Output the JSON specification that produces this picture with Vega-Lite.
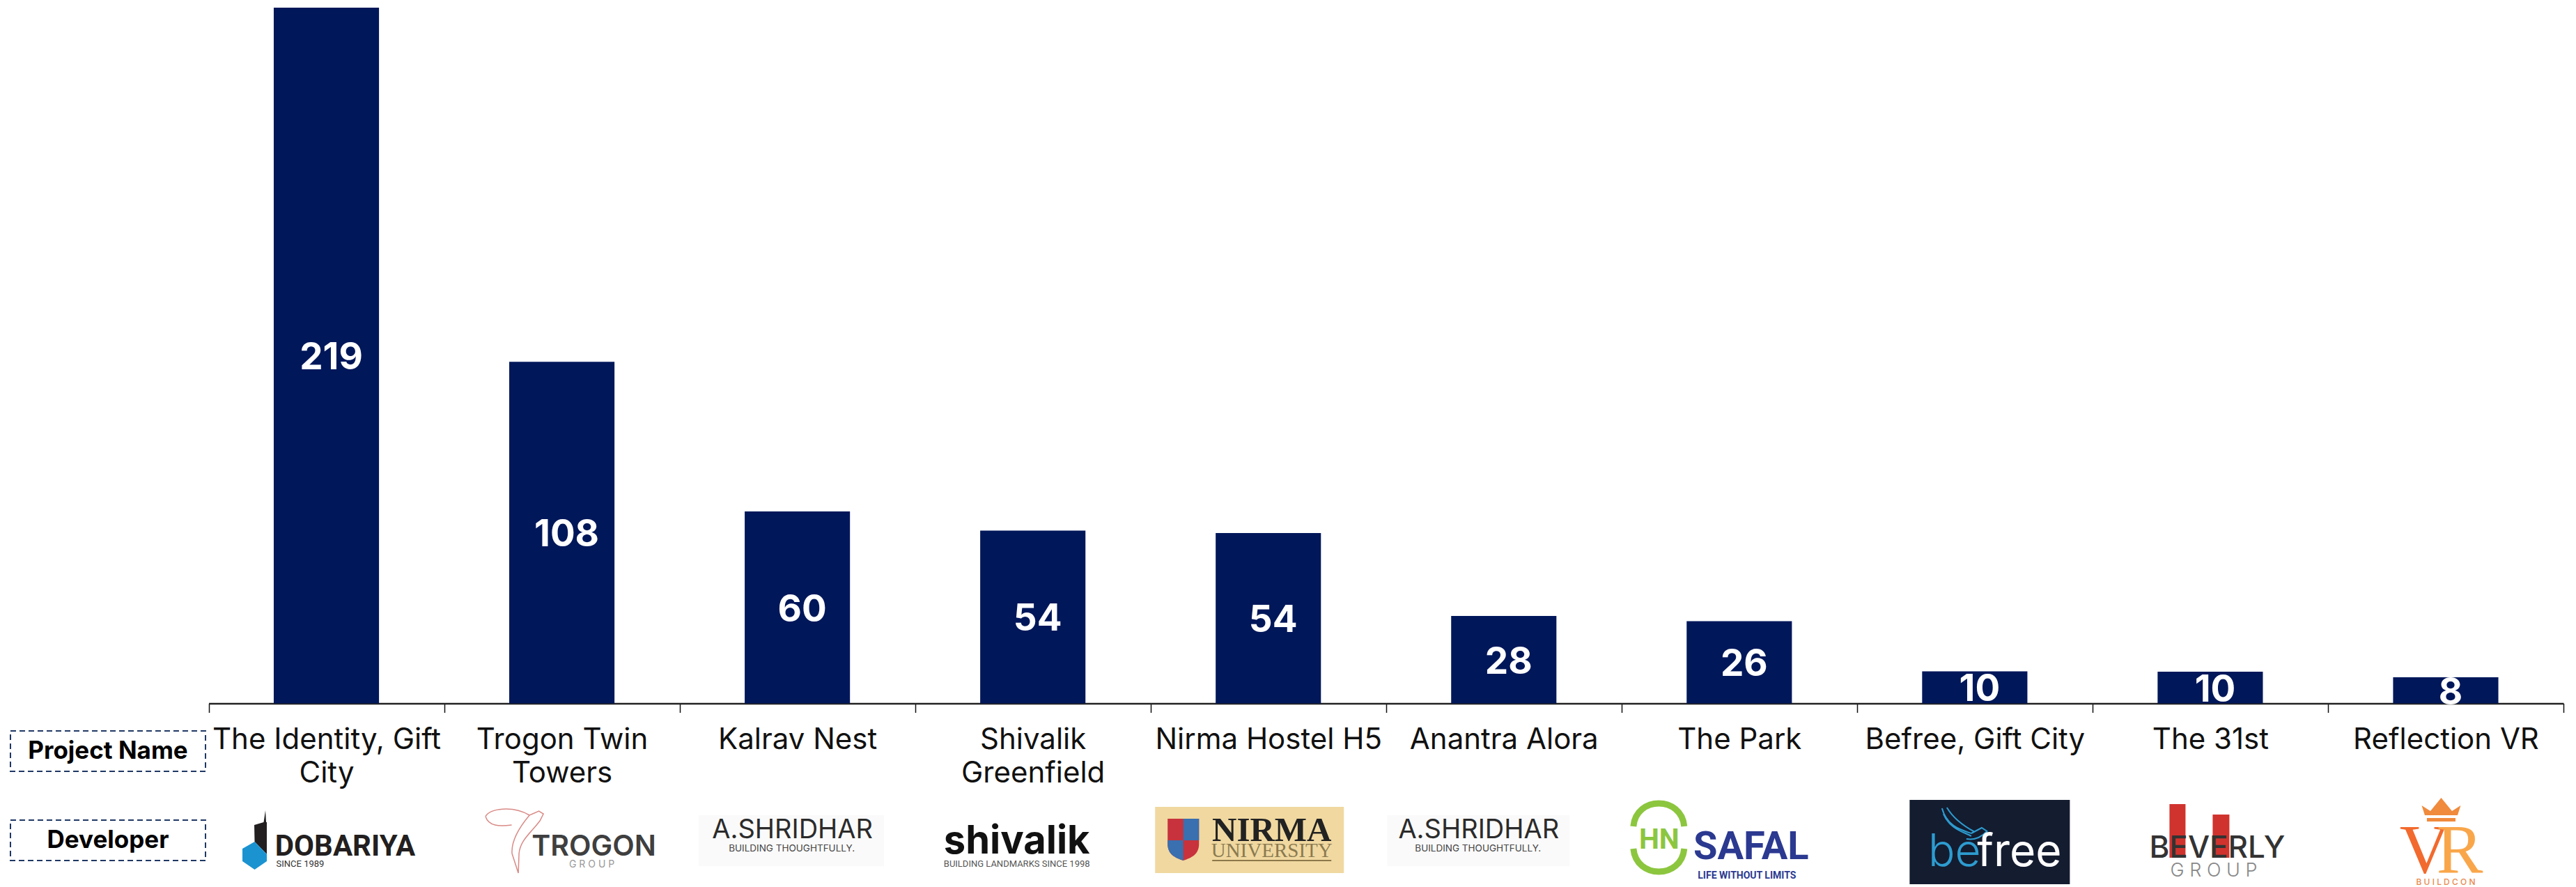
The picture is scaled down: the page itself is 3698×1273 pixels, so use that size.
{"$schema":"https://vega.github.io/schema/vega-lite/v6.json","width":3698,"height":1273,"padding":0,"autosize":{"type":"none"},"background":"white","config":{"view":{"stroke":null},"font":"Inter"},"datasets":{"bars":[{"project":"The Identity, Gift City","value":219},{"project":"Trogon Twin Towers","value":107.5},{"project":"Kalrav Nest","value":60.4},{"project":"Shivalik Greenfield","value":54.4},{"project":"Nirma Hostel H5","value":53.6},{"project":"Anantra Alora","value":27.5},{"project":"The Park","value":25.9},{"project":"Befree, Gift City","value":10.1},{"project":"The 31st","value":10},{"project":"Reflection VR","value":8.2}]},"resolve":{"scale":{"x":"independent","y":"independent"}},"layer":[
{"data":{"name":"bars"},
"encoding":{"x":{"field":"project","type":"nominal","sort":null,"title":null,"scale":{"type":"band","paddingInner":0,"paddingOuter":0,"domain":["The Identity, Gift City","Trogon Twin Towers","Kalrav Nest","Shivalik Greenfield","Nirma Hostel H5","Anantra Alora","The Park","Befree, Gift City","The 31st","Reflection VR"],"range":[299.5,3680]},"axis":{"orient":"bottom","offset":-263.5,"labelAngle":0,"labelAlign":"center","labelBaseline":"top","labelFont":"Inter","labelFontSize":42,"labelColor":"#111111","labelPadding":19,"labelLimit":600,"labelLineHeight":48,"labelOverlap":false,"tickBand":"extent","tickSize":13,"tickWidth":1.5,"tickColor":"#111111","domainColor":"#222222","domainWidth":2.5,"grid":false,"labelExpr":"datum.value=='The Identity, Gift City'?['The Identity, Gift','City']:datum.value=='Trogon Twin Towers'?['Trogon Twin','Towers']:datum.value=='Shivalik Greenfield'?['Shivalik','Greenfield']:datum.value"}},"y":{"field":"value","type":"quantitative","title":null,"axis":null,"scale":{"domain":[0,219],"nice":false,"zero":true,"range":[1009.5,11]}}},
"mark":{"type":"bar","color":"#00175A","width":{"band":0.447}}},
{"data":{"name":"bars"},
"encoding":{"x":{"field":"project","type":"nominal","sort":null,"axis":null,"scale":{"type":"band","paddingInner":0,"paddingOuter":0,"domain":["The Identity, Gift City","Trogon Twin Towers","Kalrav Nest","Shivalik Greenfield","Nirma Hostel H5","Anantra Alora","The Park","Befree, Gift City","The 31st","Reflection VR"],"range":[299.5,3680]}},"y":{"field":"value","type":"quantitative","axis":null,"scale":{"domain":[0,438],"nice":false,"zero":true,"range":[1009.5,11]}},"text":{"field":"value","type":"quantitative","format":".0f"}},
"mark":{"type":"text","color":"white","font":"Inter","fontWeight":"bold","fontSize":53,"dx":7,"dy":4,"baseline":"middle","align":"center"}},
{"encoding":{"x":{"field":"project","type":"nominal","sort":null,"axis":null,"scale":{"type":"band","paddingInner":0,"paddingOuter":0,"domain":["The Identity, Gift City","Trogon Twin Towers","Kalrav Nest","Shivalik Greenfield","Nirma Hostel H5","Anantra Alora","The Park","Befree, Gift City","The 31st","Reflection VR"],"range":[299.5,3680]}},"y":{"datum":"Developer","type":"nominal","axis":null,"scale":{"type":"band","paddingInner":0,"paddingOuter":0,"domain":["Project Name","Developer"],"range":[1014,1270]}}},
"layer":[
{"data":{"values":[{"project":"The Identity, Gift City"}]},"mark":{"type":"point","shape":"M-0.875,-0.43L-0.865,-0.26L-0.855,-0.26L-0.855,0.2L-1.03,0.02L-1.035,-0.22L-0.9,-0.26Z","size":40000,"filled":true,"color":"#231f20","opacity":1,"strokeWidth":0}},
{"data":{"values":[{"project":"The Identity, Gift City"}]},"mark":{"type":"point","shape":"M-1.03,0.02L-0.855,0.2L-0.855,0.3L-1.03,0.42L-1.205,0.3L-1.205,0.12Z","size":40000,"filled":true,"color":"#1b93d1","opacity":1,"strokeWidth":0}},
{"data":{"values":[{"project":"The Identity, Gift City","logo":"DOBARIYA"}]},"mark":{"type":"text","font":"Roboto","fontWeight":"bold","fontSize":42,"color":"#231f20","dx":27,"dy":22,"baseline":"alphabetic"},"encoding":{"text":{"field":"logo"}}},
{"data":{"values":[{"project":"The Identity, Gift City","logo":"SINCE 1989"}]},"mark":{"type":"text","font":"Roboto","fontSize":13,"color":"#333333","dx":-72,"dy":38,"align":"left","baseline":"alphabetic"},"encoding":{"text":{"field":"logo"}}},
{"data":{"values":[{"project":"Trogon Twin Towers"}]},"mark":{"type":"point","shape":"M-1.095,-0.34C-1.05,-0.46 -0.7,-0.5 -0.465,-0.36L-0.33,-0.42L-0.265,-0.38L-0.315,-0.28C-0.45,-0.1 -0.6,0 -0.615,0.19L-0.625,0.47L-0.715,0.19C-0.73,0 -0.6,-0.2 -0.465,-0.36M-1.095,-0.34C-1.05,-0.2 -0.9,-0.2 -0.72,-0.22","size":40000,"filled":false,"stroke":"#d98a86","strokeWidth":1.5,"opacity":1}},
{"data":{"values":[{"project":"Trogon Twin Towers","logo":"TROGON"}]},"mark":{"type":"text","font":"Inter","fontWeight":600,"fontSize":41,"color":"#3f3f3f","dx":46,"dy":22,"baseline":"alphabetic"},"encoding":{"text":{"field":"logo"}}},
{"data":{"values":[{"project":"Trogon Twin Towers","logo":"G  R  O  U  P"}]},"mark":{"type":"text","font":"Inter","fontSize":14,"color":"#999999","dx":43,"dy":39,"baseline":"alphabetic"},"encoding":{"text":{"field":"logo"}}},
{"data":{"values":[{"project":"Kalrav Nest"}]},"mark":{"type":"point","shape":"M-1.415,-0.36H1.245V0.37H-1.415Z","size":40000,"filled":true,"color":"#fafafa","opacity":1,"strokeWidth":0}},
{"data":{"values":[{"project":"Kalrav Nest","logo":"A.SHRIDHAR"}]},"mark":{"type":"text","font":"Inter","fontSize":38,"fontWeight":400,"color":"#2b2b2b","dx":-7,"dy":-3,"baseline":"alphabetic"},"encoding":{"text":{"field":"logo"}}},
{"data":{"values":[{"project":"Kalrav Nest","logo":"BUILDING THOUGHTFULLY."}]},"mark":{"type":"text","font":"Inter","fontSize":13.5,"color":"#444444","dx":-8,"dy":16,"baseline":"alphabetic"},"encoding":{"text":{"field":"logo"}}},
{"data":{"values":[{"project":"Shivalik Greenfield","logo":"shivalik"}]},"mark":{"type":"text","font":"Inter","fontWeight":"bold","fontSize":56,"color":"#111111","dx":-23,"dy":19,"baseline":"alphabetic"},"encoding":{"text":{"field":"logo"}}},
{"data":{"values":[{"project":"Shivalik Greenfield","logo":"BUILDING LANDMARKS SINCE 1998"}]},"mark":{"type":"text","font":"Roboto","fontSize":13,"color":"#555555","dx":-23,"dy":38,"baseline":"alphabetic"},"encoding":{"text":{"field":"logo"}}},
{"data":{"values":[{"project":"Nirma Hostel H5"}]},"mark":{"type":"point","shape":"M-1.625,-0.48H1.085V0.47H-1.625Z","size":40000,"filled":true,"color":"#F0D8A0","opacity":1,"strokeWidth":0}},
{"data":{"values":[{"project":"Nirma Hostel H5"}]},"mark":{"type":"point","shape":"M-1.445,-0.31H-0.995V0.05C-0.995,0.2 -1.1,0.25 -1.22,0.29C-1.34,0.25 -1.445,0.2 -1.445,0.05Z","size":40000,"filled":true,"color":"#c8323c","opacity":1,"strokeWidth":0}},
{"data":{"values":[{"project":"Nirma Hostel H5"}]},"mark":{"type":"point","shape":"M-1.22,-0.31H-0.995V0H-1.22ZM-1.445,0H-1.22V0.29C-1.34,0.25 -1.445,0.2 -1.445,0.05Z","size":40000,"filled":true,"color":"#3a6fb0","opacity":1,"strokeWidth":0}},
{"data":{"values":[{"project":"Nirma Hostel H5","logo":"NIRMA"}]},"mark":{"type":"text","font":"Liberation Serif","fontWeight":"bold","fontSize":49,"color":"#222222","dx":5,"dy":1,"baseline":"alphabetic"},"encoding":{"text":{"field":"logo"}}},
{"data":{"values":[{"project":"Nirma Hostel H5","logo":"UNIVERSITY"}]},"mark":{"type":"text","font":"Liberation Serif","fontSize":29,"color":"#8a7a50","dx":5,"dy":24,"baseline":"alphabetic"},"encoding":{"text":{"field":"logo"}}},
{"data":{"values":[{"project":"Nirma Hostel H5"}]},"mark":{"type":"point","shape":"M-0.805,0.28H0.905V0.3H-0.805Z","size":40000,"filled":true,"color":"#8c7849","opacity":1,"strokeWidth":0}},
{"data":{"values":[{"project":"Anantra Alora"}]},"mark":{"type":"point","shape":"M-1.675,-0.36H0.945V0.37H-1.675Z","size":40000,"filled":true,"color":"#fafafa","opacity":1,"strokeWidth":0}},
{"data":{"values":[{"project":"Anantra Alora","logo":"A.SHRIDHAR"}]},"mark":{"type":"text","font":"Inter","fontSize":38,"fontWeight":400,"color":"#2b2b2b","dx":-36,"dy":-3,"baseline":"alphabetic"},"encoding":{"text":{"field":"logo"}}},
{"data":{"values":[{"project":"Anantra Alora","logo":"BUILDING THOUGHTFULLY."}]},"mark":{"type":"text","font":"Inter","fontSize":13.5,"color":"#444444","dx":-37,"dy":16,"baseline":"alphabetic"},"encoding":{"text":{"field":"logo"}}},
{"data":{"values":[{"project":"The Park"}]},"mark":{"type":"point","shape":"M-1.52,-0.2C-1.48,-0.64 -0.83,-0.64 -0.79,-0.2M-1.52,0.12C-1.48,0.56 -0.83,0.56 -0.79,0.12","size":40000,"filled":false,"stroke":"#8cc63f","strokeWidth":9,"opacity":1}},
{"data":{"values":[{"project":"The Park","logo":"HN"}]},"mark":{"type":"text","font":"Roboto","fontWeight":"bold","fontSize":41,"color":"#8cc63f","dx":-115,"dy":12,"baseline":"alphabetic"},"encoding":{"text":{"field":"logo"}}},
{"data":{"values":[{"project":"The Park","logo":"SAFAL"}]},"mark":{"type":"text","font":"Roboto","fontWeight":"bold","fontSize":56,"color":"#2b3990","dx":17,"dy":27,"baseline":"alphabetic"},"encoding":{"text":{"field":"logo"}}},
{"data":{"values":[{"project":"The Park","logo":"LIFE WITHOUT LIMITS"}]},"mark":{"type":"text","font":"Roboto","fontWeight":"bold","fontSize":14,"color":"#2b3990","dx":11,"dy":55,"baseline":"alphabetic"},"encoding":{"text":{"field":"logo"}}},
{"data":{"values":[{"project":"Befree, Gift City"}]},"mark":{"type":"point","shape":"M-0.935,-0.58H1.365V0.63H-0.935Z","size":40000,"filled":true,"color":"#141c30","opacity":1,"strokeWidth":0}},
{"data":{"values":[{"project":"Befree, Gift City"}]},"mark":{"type":"point","shape":"M-0.47,-0.46C-0.4,-0.2 -0.2,-0.15 -0.05,-0.1M-0.4,-0.47C-0.3,-0.3 -0.15,-0.2 0,-0.12M-0.45,-0.38C-0.35,-0.15 -0.15,-0.12 -0.05,-0.06M-0.05,-0.1L0.1,-0.18L0.175,-0.13C0.1,-0.05 0,0 -0.12,-0.02","size":40000,"filled":false,"stroke":"#2d9cd0","strokeWidth":2,"opacity":1}},
{"data":{"values":[{"project":"Befree, Gift City","logo":"be"}]},"mark":{"type":"text","font":"Inter","fontWeight":300,"fontSize":64,"color":"#2d9cd0","dx":-29,"dy":37,"baseline":"alphabetic"},"encoding":{"text":{"field":"logo"}}},
{"data":{"values":[{"project":"Befree, Gift City","logo":"free"}]},"mark":{"type":"text","font":"Inter","fontWeight":400,"fontSize":64,"color":"#ffffff","dx":64,"dy":37,"baseline":"alphabetic"},"encoding":{"text":{"field":"logo"}}},
{"data":{"values":[{"project":"The 31st"}]},"mark":{"type":"point","shape":"M-0.585,-0.52H-0.355V0.25H-0.585ZM0.035,-0.37H0.275V0.25H0.035Z","size":40000,"filled":true,"color":"#d0332e","opacity":1,"strokeWidth":0}},
{"data":{"values":[{"project":"The 31st","logo":"BEVERLY"}]},"mark":{"type":"text","font":"Inter","fontWeight":500,"fontSize":44,"color":"#333333","dx":10,"dy":25,"baseline":"alphabetic"},"encoding":{"text":{"field":"logo"}}},
{"data":{"values":[{"project":"The 31st","logo":"G  R  O  U  P"}]},"mark":{"type":"text","font":"Inter","fontWeight":300,"fontSize":27,"color":"#888888","dx":5,"dy":52,"baseline":"alphabetic"},"encoding":{"text":{"field":"logo"}}},
{"data":{"values":[{"project":"Reflection VR"}]},"mark":{"type":"point","shape":"M-0.3,-0.36L-0.345,-0.5L-0.22,-0.42L-0.065,-0.61L0.09,-0.42L0.215,-0.5L0.17,-0.36ZM-0.27,-0.32H0.14V-0.27H-0.27Z","size":40000,"filled":true,"color":"#f08a3c","opacity":1,"strokeWidth":0}},
{"data":{"values":[{"project":"Reflection VR","logo":"V"}]},"mark":{"type":"text","font":"Liberation Serif","fontSize":100,"color":"#f26a2e","dx":-30,"dy":46,"baseline":"alphabetic"},"encoding":{"text":{"field":"logo"}}},
{"data":{"values":[{"project":"Reflection VR","logo":"R"}]},"mark":{"type":"text","font":"Liberation Serif","fontSize":100,"color":"#f9a64a","dx":20,"dy":46,"baseline":"alphabetic"},"encoding":{"text":{"field":"logo"}}},
{"data":{"values":[{"project":"Reflection VR","logo":"B U I L D C O N"}]},"mark":{"type":"text","font":"Inter","fontWeight":500,"fontSize":12,"color":"#e88a50","dy":64,"baseline":"alphabetic"},"encoding":{"text":{"field":"logo"}}}
]},
{"data":{"values":[{"col":"label","row":"Project Name"},{"col":"label","row":"Developer"}]},"encoding":{"x":{"field":"col","type":"nominal","axis":null,"scale":{"type":"band","paddingInner":0,"paddingOuter":0,"domain":["label"],"range":[15,295]}},"y":{"field":"row","type":"nominal","axis":null,"scale":{"type":"band","paddingInner":0,"paddingOuter":0,"domain":["Project Name","Developer"],"range":[1014,1270]}}},
"layer":[
{"mark":{"type":"rect","height":58,"fill":"transparent","stroke":"#1f3864","strokeWidth":2,"strokeDash":[8,5]}},
{"mark":{"type":"text","font":"Inter","fontWeight":"bold","fontSize":35,"color":"#000000"},"encoding":{"text":{"field":"row"}}}
]}
]}
